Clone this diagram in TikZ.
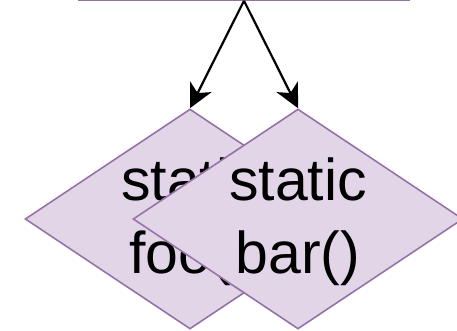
\documentclass[tikz,border=0pt]{standalone}
\usepackage{fontspec}
\setmainfont{Liberation Sans}
\usetikzlibrary{shapes.geometric,arrows.meta}
\definecolor{pfill}{HTML}{E1D5E7}
\definecolor{pdraw}{HTML}{9673A6}
\begin{document}
\begin{tikzpicture}[x=1pt,y=-1pt,
  decision/.style={diamond, draw=pdraw, fill=pfill, line width=1.6pt,
    minimum width=330pt, minimum height=220pt, inner sep=0pt, aspect=1.5},
  procbox/.style={rectangle, draw=pdraw, fill=pfill, line width=1.6pt,
    minimum width=330pt, minimum height=60pt, inner sep=0pt},
  lbl/.style={anchor=base, font=\fontsize{59}{70}\selectfont, inner sep=0pt},
  flow/.style={-{Stealth[length=24pt,width=24pt,inset=7pt]}, line width=2.2pt}]
\clip (0,0) rectangle (457,331);
\node[procbox, anchor=south] (top) at (244,0.8) {};
\node[decision] (dl) at (190,219) {};
\node[lbl] (la) at (190,200) {static};
\node[lbl] (lb) at (190,273) {foo()};
\node[decision] (dr) at (298,219) {};
\node[lbl] (ra) at (298,200) {static};
\node[lbl] (rb) at (298,273) {bar()};
\draw[flow] (top.south) -- (dl.north);
\draw[flow] (top.south) -- (dr.north);
\end{tikzpicture}
\end{document}
